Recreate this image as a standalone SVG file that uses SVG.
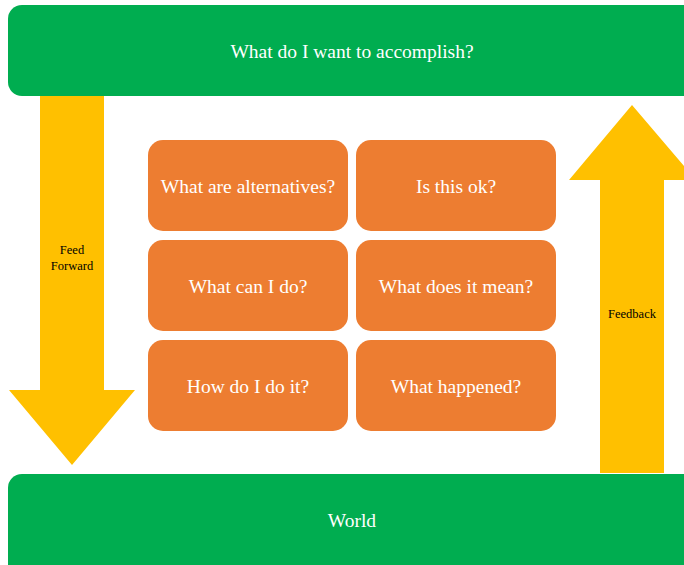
<svg xmlns="http://www.w3.org/2000/svg" width="684" height="565" viewBox="0 0 684 565">
<style>
.g{fill:#00AD50}
.o{fill:#ED7D31}
.y{fill:#FFC000}
.t{font-family:"Liberation Serif","Times New Roman",serif;font-size:19.5px;fill:#fff;text-anchor:middle;dominant-baseline:central}
.s{font-family:"Liberation Serif","Times New Roman",serif;font-size:12.5px;fill:#000;text-anchor:middle;dominant-baseline:central}
</style>
<rect width="684" height="565" fill="#fff"/>
<g id="connectors">
<polygon class="y" points="40,96 104,96 104,390 135,390 72,465 9,390 40,390"/>
<polygon class="y" points="600,473 664,473 664,180 696,180 632,105 569,180 600,180"/>
</g>
<g id="top"><rect class="g" x="8" y="5" width="700" height="91" rx="14"/><text class="t" x="352" y="51">What do I want to accomplish?</text></g>
<g id="world"><rect class="g" x="8" y="474" width="700" height="110" rx="14"/><text class="t" x="352" y="520">World</text></g>
<g id="ff"><text class="s" x="72" y="250">Feed</text><text class="s" x="72" y="266">Forward</text></g>
<g id="fb"><text class="s" x="632" y="314">Feedback</text></g>
<g id="n1"><rect class="o" x="148" y="140" width="200" height="91" rx="15"/><text class="t" x="248" y="186">What are alternatives?</text></g>
<g id="n2"><rect class="o" x="356" y="140" width="200" height="91" rx="15"/><text class="t" x="456" y="186">Is this ok?</text></g>
<g id="n3"><rect class="o" x="148" y="240" width="200" height="91" rx="15"/><text class="t" x="248" y="286">What can I do?</text></g>
<g id="n4"><rect class="o" x="356" y="240" width="200" height="91" rx="15"/><text class="t" x="456" y="286">What does it mean?</text></g>
<g id="n5"><rect class="o" x="148" y="340" width="200" height="91" rx="15"/><text class="t" x="248" y="386">How do I do it?</text></g>
<g id="n6"><rect class="o" x="356" y="340" width="200" height="91" rx="15"/><text class="t" x="456" y="386">What happened?</text></g>
</svg>
